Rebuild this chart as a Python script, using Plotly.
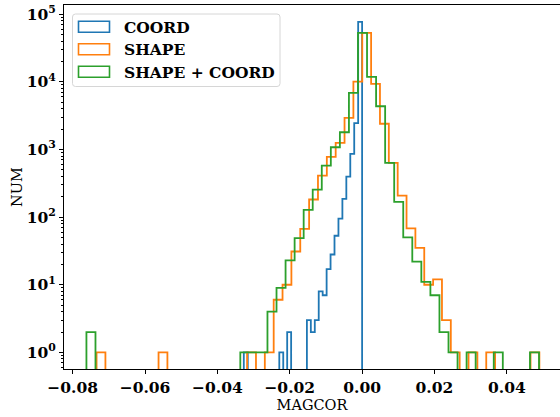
import numpy as np
import plotly.graph_objects as go

# ------------------------------------------
# DATA (bin counts)
# ------------------------------------------
COORD_RANGE = (-0.0327, 0.0)
COORD_COUNTS = [1, 0, 0, 0, 0, 0, 0, 0, 0, 1,
                0, 2, 0, 0, 0, 0, 3, 2, 3, 8,
                7, 17, 28, 53, 95, 186, 397, 861, 2450, 77200]

SHAPE_RANGE = (-0.0734, 0.0490)
SHAPE_COUNTS = [1, 0, 0, 0, 0, 0, 0, 1, 0, 0,
                0, 0, 0, 0, 0, 0, 0, 1, 0, 1,
                6, 10, 31, 67, 182, 411, 777, 1253, 2933, 10100,
                53000, 9300, 2400, 634, 208, 68, 35, 10, 12, 3,
                1, 0, 1, 0, 1, 0, 0, 0, 0, 1]

BOTH_RANGE = (-0.0762, 0.0489)
BOTH_COUNTS = [2, 0, 0, 0, 0, 0, 0, 0, 0, 0,
               0, 0, 0, 0, 0, 0, 0, 1, 1, 1,
               4, 9, 23, 49, 128, 255, 578, 1078, 1796, 6870,
               53000, 11860, 4355, 634, 168, 50, 22, 11, 7, 2,
               1, 0, 1, 0, 0, 1, 0, 0, 0, 1]

SERIES_NAMES = ["COORD", "SHAPE", "SHAPE + COORD"]
X_TICKS = [-0.08, -0.06, -0.04, -0.02, 0.0, 0.02, 0.04]
Y_TICK_EXP = [0, 1, 2, 3, 4, 5]

# ------------------------------------------
# STYLING
# ------------------------------------------
COLORS = ["#1f77b4", "#ff7f0e", "#2ca02c"]
FONT = "DejaVu Serif"
FS = 15.5          # tick labels / legend (bold)
FS_TITLE = 14.5    # axis titles (regular)
FLOOR = 1e-3       # empty bins -> below the visible log range

W, H = 560, 417
ML, MR, MT, MB = 64, 0, 5, 48
PW, PH = W - ML - MR, H - MT - MB


def px_x(px):
    return (px - ML) / PW


def px_y(py):
    return (H - MB - py) / PH


def step_xy(rng, counts):
    """Outline of a step histogram (like histtype='step')."""
    edges = np.linspace(rng[0], rng[1], len(counts) + 1)
    c = np.asarray(counts, dtype=float)
    c[c <= 0] = FLOOR
    xs = np.concatenate([[edges[0]], edges, [edges[-1]]])
    ys = np.concatenate([[FLOOR], c, [c[-1], FLOOR]])
    return xs, ys


fig = go.Figure()

series = [(COORD_RANGE, COORD_COUNTS), (SHAPE_RANGE, SHAPE_COUNTS), (BOTH_RANGE, BOTH_COUNTS)]
for (rng, counts), col, name in zip(series, COLORS, SERIES_NAMES):
    xs, ys = step_xy(rng, counts)
    fig.add_trace(go.Scatter(
        x=xs, y=ys, mode="lines", line=dict(color=col, width=1.8, shape="hv"),
        name=name, showlegend=False, hoverinfo="skip"
    ))

# legend drawn by hand: rounded frame + outlined patches (matplotlib style)
shapes = []
x0, x1, y0, y1, r = 72.5, 280, 14, 86.5, 3
frame = (f"M{px_x(x0 + r)},{px_y(y0)} L{px_x(x1 - r)},{px_y(y0)} "
         f"Q{px_x(x1)},{px_y(y0)} {px_x(x1)},{px_y(y0 + r)} "
         f"L{px_x(x1)},{px_y(y1 - r)} Q{px_x(x1)},{px_y(y1)} {px_x(x1 - r)},{px_y(y1)} "
         f"L{px_x(x0 + r)},{px_y(y1)} Q{px_x(x0)},{px_y(y1)} {px_x(x0)},{px_y(y1 - r)} "
         f"L{px_x(x0)},{px_y(y0 + r)} Q{px_x(x0)},{px_y(y0)} {px_x(x0 + r)},{px_y(y0)} Z")
shapes.append(dict(type="path", path=frame, xref="paper", yref="paper",
                   fillcolor="rgba(255,255,255,0.8)", line=dict(color="#d6d6d6", width=1)))
annotations = []
for i, (name, col) in enumerate(zip(SERIES_NAMES, COLORS)):
    yc = 26.7 + 22.5 * i
    shapes.append(dict(type="rect", xref="paper", yref="paper",
                       x0=px_x(78.5), x1=px_x(109.5), y0=px_y(yc - 5.5), y1=px_y(yc + 5.5),
                       line=dict(color=col, width=1.6), fillcolor="rgba(0,0,0,0)"))
    annotations.append(dict(text=name, xref="paper", yref="paper", x=px_x(121.5), y=px_y(yc + 0.5),
                            xanchor="left", yanchor="middle", showarrow=False,
                            font=dict(family=FONT, size=FS, weight="bold", color="black")))

minor_vals = [k * 10.0 ** e for e in range(-1, 6) for k in range(2, 10)]

fig.update_layout(
    width=W, height=H,
    margin=dict(l=ML, r=MR, t=MT, b=MB),
    plot_bgcolor="white", paper_bgcolor="white",
    font=dict(family=FONT, size=FS, color="black"),
    showlegend=False,
    shapes=shapes,
    annotations=annotations,
    xaxis=dict(
        range=[-0.0824, 0.0547],
        tickvals=X_TICKS,
        ticktext=[f"{v:.2f}".replace("-", "\u2212") for v in X_TICKS],
        tickfont=dict(weight="bold"),
        ticks="outside", ticklen=4, tickwidth=1, tickcolor="black",
        showline=True, linecolor="black", linewidth=1, mirror=True,
        showgrid=False, zeroline=False, automargin=False,
        title=dict(text="MAGCOR", standoff=3, font=dict(size=FS_TITLE)),
    ),
    yaxis=dict(
        type="log",
        range=[-0.2456, 5.136],
        tickvals=[10.0 ** e for e in Y_TICK_EXP],
        ticktext=[f"10<sup>{e}</sup>" for e in Y_TICK_EXP],
        tickfont=dict(weight="bold"),
        ticks="outside", ticklen=4, tickwidth=1, tickcolor="black",
        minor=dict(tickvals=minor_vals, ticks="outside", ticklen=2, tickcolor="black", showgrid=False),
        showline=True, linecolor="black", linewidth=1,
        showgrid=False, zeroline=False, automargin=False,
        title=dict(text="NUM", standoff=0, font=dict(size=FS_TITLE)),
    ),
)

# page body has a default 8px margin; drop it so the figure sits at the window corner
fig.write_html("out.html", config={"displayModeBar": False},
               post_script="document.body.style.margin='0';")
